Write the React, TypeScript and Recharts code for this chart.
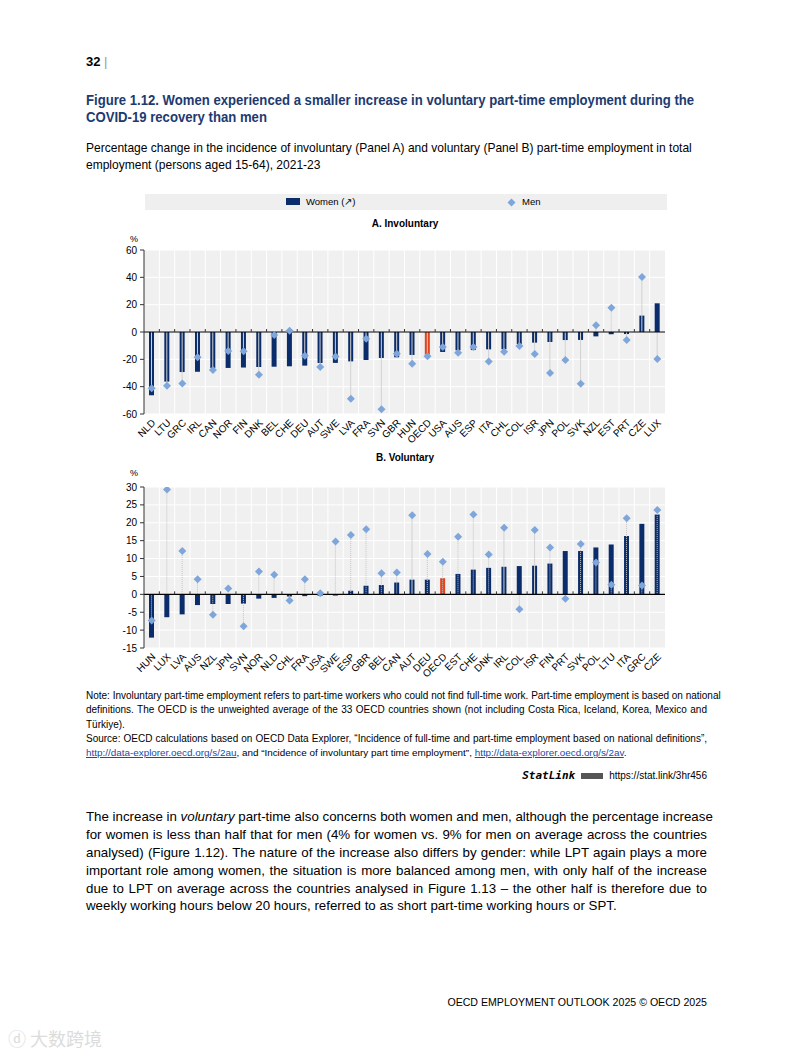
import React from "react";
import { Bar, CartesianGrid, Cell, ComposedChart, Line, ReferenceLine, XAxis, YAxis } from "recharts";

const NARROW = "'Liberation Sans Narrow', 'Arial Narrow', 'Liberation Sans', Arial, sans-serif";
const SANS = "'Liberation Sans', Arial, sans-serif";

const NAVY = "#0b2c6a";
const RED = "#e2421c";
const LIGHT = "#7ea6da";
const TITLE = "#1d3a70";

// Panel A – involuntary part-time, % change 2021-23
const countriesA = ["NLD", "LTU", "GRC", "IRL", "CAN", "NOR", "FIN", "DNK", "BEL", "CHE", "DEU", "AUT", "SWE", "LVA", "FRA", "SVN", "GBR", "HUN", "OECD", "USA", "AUS", "ESP", "ITA", "CHL", "COL", "ISR", "JPN", "POL", "SVK", "NZL", "EST", "PRT", "CZE", "LUX"];
const womenA = [-46.3, -36.3, -29.3, -29.1, -26.4, -26.3, -26.0, -25.6, -25.4, -25.1, -24.6, -22.7, -22.6, -21.5, -20.5, -19.0, -18.5, -16.8, -16.6, -14.6, -13.4, -13.2, -12.7, -12.6, -8.8, -7.8, -7.3, -5.9, -5.8, -3.2, -1.7, -1.5, 12.0, 21.0];
const menA = [-41.2, -39.3, -37.6, -18.5, -27.8, -13.9, -14.1, -31.2, -2.2, 1.0, -17.3, -25.6, -18.0, -48.8, -4.9, -56.6, -15.9, -23.2, -17.8, -11.0, -15.1, -11.0, -21.5, -14.4, -10.2, -16.1, -30.0, -20.5, -37.8, 4.9, 17.8, -5.9, 40.2, -19.8];
const ticksA = [60, 40, 20, 0, -20, -40, -60];
const dottedA = ["EST"];

// Panel B – voluntary part-time, % change 2021-23
const countriesB = ["HUN", "LUX", "LVA", "AUS", "NZL", "JPN", "SVN", "NOR", "NLD", "CHL", "FRA", "USA", "SWE", "ESP", "GBR", "BEL", "CAN", "AUT", "DEU", "OECD", "EST", "CHE", "DNK", "IRL", "COL", "ISR", "FIN", "PRT", "SVK", "POL", "LTU", "ITA", "GRC", "CZE"];
const womenB = [-12.1, -6.4, -5.6, -3.0, -2.7, -2.7, -2.6, -1.2, -1.0, -0.6, -0.5, -0.45, -0.35, 1.0, 2.4, 2.6, 3.3, 4.1, 4.1, 4.5, 5.7, 6.9, 7.4, 7.7, 7.9, 8.0, 8.6, 12.1, 12.1, 13.1, 13.9, 16.3, 19.7, 22.3];
const menB = [-7.3, 29.3, 12.1, 4.2, -5.7, 1.6, -8.9, 6.4, 5.5, -1.7, 4.2, 0.3, 14.8, 16.6, 18.2, 5.9, 6.1, 22.1, 11.3, 9.1, 16.1, 22.3, 11.1, 18.6, -4.2, 18.0, 13.1, -1.2, 14.1, 8.9, 2.7, 21.3, 2.5, 23.6];
const ticksB = [30, 25, 20, 15, 10, 5, 0, -5, -10, -15];
const solidB = ["AUT", "IRL", "ISR"];

const AVERAGE = "OECD";

type Row = { c: string; women: number; men: number; solid: number | null; dotted: number | null };

function buildRows(cats: string[], women: number[], men: number[], dotted: (c: string) => boolean): Row[] {
  return cats.map((c, i) => ({
    c,
    women: women[i],
    men: men[i],
    solid: dotted(c) ? null : men[i],
    dotted: dotted(c) ? men[i] : null,
  }));
}

const rowsA = buildRows(countriesA, womenA, menA, (c) => dottedA.includes(c));
const rowsB = buildRows(countriesB, womenB, menB, (c) => !solidB.includes(c));

function connector(p: any, dashed: boolean) {
  const { x, y, width, height } = p;
  if (p.value == null || !Number.isFinite(y) || !Number.isFinite(height)) return <g />;
  const cx = x + width / 2;
  return (
    <line
      x1={cx}
      x2={cx}
      y1={y}
      y2={y + height}
      stroke={dashed ? "#c4c4c4" : "#d2d2d2"}
      strokeWidth={1}
      strokeDasharray={dashed ? "1 1" : undefined}
    />
  );
}

function diamond(p: any) {
  const { cx, cy } = p;
  if (!Number.isFinite(cy)) return <g key={p.index} />;
  const r = 4;
  return (
    <polygon
      key={p.index}
      points={`${cx},${cy - r} ${cx + r},${cy} ${cx},${cy + r} ${cx - r},${cy}`}
      fill={LIGHT}
    />
  );
}

function CountryTick(props: any) {
  const { x, y, payload } = props;
  return (
    <text
      x={x + 2}
      y={y - 1}
      dy="0.35em"
      textAnchor="end"
      fontSize={10}
      fontFamily={NARROW}
      fill="#000"
      transform={`rotate(-45, ${x + 2}, ${y - 1})`}
    >
      {payload.value}
    </text>
  );
}

function Panel({ rows, domain, ticks, height }: { rows: Row[]; domain: [number, number]; ticks: number[]; height: number }) {
  const n = rows.length;
  const zeroLine = (p: any) => {
    const { x1, x2, y1 } = p;
    const w = (x2 - x1) / n;
    return (
      <g>
        <line x1={x1} x2={x2} y1={y1} y2={y1} stroke="#000" strokeWidth={1.2} />
        {rows.slice(1).map((_, i) => (
          <line key={i} x1={x1 + w * (i + 1)} x2={x1 + w * (i + 1)} y1={y1 - 3} y2={y1} stroke="#333" strokeWidth={1} />
        ))}
      </g>
    );
  };
  return (
    <ComposedChart width={575} height={height} data={rows} margin={{ top: 10, right: 10, bottom: 0, left: 0 }}>
      <CartesianGrid
        fill="#f0f0f0"
        stroke="#ffffff"
        strokeWidth={1}
        verticalCoordinatesGenerator={({ offset }: any) =>
          rows.slice(1).map((_, i) => offset.left + (offset.width * (i + 1)) / n)
        }
      />
      <XAxis dataKey="c" interval={0} tick={<CountryTick />} tickLine={false} axisLine={false} height={40} />
      <XAxis xAxisId="s" dataKey="c" hide />
      <XAxis xAxisId="d" dataKey="c" hide />
      <YAxis
        domain={domain}
        ticks={ticks}
        interval={0}
        width={44}
        tickSize={4}
        tickMargin={3}
        axisLine={{ stroke: "#333" }}
        tickLine={{ stroke: "#333" }}
        tick={{ fontSize: 10, fill: "#000", fontFamily: NARROW }}
        allowDataOverflow
      />
      <Bar dataKey="women" barSize={5} isAnimationActive={false}>
        {rows.map((r) => (
          <Cell key={r.c} fill={r.c === AVERAGE ? RED : NAVY} />
        ))}
      </Bar>
      <ReferenceLine y={0} shape={zeroLine} />
      <Bar xAxisId="s" dataKey="solid" barSize={5} isAnimationActive={false} shape={(p: any) => connector(p, false)} />
      <Bar xAxisId="d" dataKey="dotted" barSize={5} isAnimationActive={false} shape={(p: any) => connector(p, true)} />
      <Line dataKey="men" stroke="none" dot={diamond} activeDot={false} isAnimationActive={false} legendType="none" />
    </ComposedChart>
  );
}

// one line of text; sx squeezes it horizontally to imitate a narrow face
function Text({ top, left = 86, width = 621, lh, size, family = NARROW, justify = false, sx = 1, style, children }: any) {
  return (
    <div
      style={{
        position: "absolute",
        top,
        left,
        width: width / sx,
        height: lh,
        lineHeight: `${lh}px`,
        fontSize: size,
        fontFamily: family,
        whiteSpace: "nowrap",
        textAlign: justify ? "justify" : "left",
        textAlignLast: justify ? "justify" : "left",
        color: "#000",
        transform: sx !== 1 ? `scaleX(${sx})` : undefined,
        transformOrigin: "0 0",
        ...style,
      }}
    >
      {children}
    </div>
  );
}

const link = { color: "#1a4aa8", textDecoration: "underline" };
const bodySize = 13.3;

export default function App() {
  return (
    <div style={{ position: "absolute", left: 0, top: 0, width: 793, height: 1057, background: "#fff", overflow: "hidden" }}>
      <Text top={53} lh={18} size={13} family={SANS} style={{ fontWeight: "bold" }}>
        32 <span style={{ fontWeight: "normal", color: "#999" }}>|</span>
      </Text>

      <Text top={90} lh={19} size={15} sx={0.875} style={{ fontWeight: "bold", color: TITLE }}>
        Figure 1.12. Women experienced a smaller increase in voluntary part-time employment during the
      </Text>
      <Text top={107} lh={19} size={15} sx={0.875} style={{ fontWeight: "bold", color: TITLE }}>
        COVID-19 recovery than men
      </Text>

      <Text top={139} lh={18} size={13.5} sx={0.89}>
        Percentage change in the incidence of involuntary (Panel A) and voluntary (Panel B) part-time employment in total
      </Text>
      <Text top={156} lh={18} size={13.5} sx={0.89}>
        employment (persons aged 15-64), 2021-23
      </Text>

      {/* legend */}
      <div style={{ position: "absolute", left: 145, top: 194, width: 522, height: 16, background: "#efefef" }} />
      <div style={{ position: "absolute", left: 286, top: 198, width: 14, height: 7, background: NAVY }} />
      <Text top={195} left={306} width={80} lh={14} size={9.5}>Women (↗)</Text>
      <svg style={{ position: "absolute", left: 507, top: 198 }} width={9} height={9}>
        <polygon points="4.5,0.5 8.5,4.5 4.5,8.5 0.5,4.5" fill={LIGHT} />
      </svg>
      <Text top={195} left={522} width={40} lh={14} size={9.5}>Men</Text>

      {/* Panel A */}
      <Text top={217} left={305} width={200} lh={14} size={10} style={{ fontWeight: "bold", textAlign: "center", textAlignLast: "center" }}>
        A. Involuntary
      </Text>
      <Text top={233} left={130} width={10} lh={12} size={9}>%</Text>
      <div style={{ position: "absolute", left: 100, top: 240 }}>
        <Panel rows={rowsA} domain={[-60, 60]} ticks={ticksA} height={214} />
      </div>

      {/* Panel B */}
      <Text top={451} left={305} width={200} lh={14} size={10} style={{ fontWeight: "bold", textAlign: "center", textAlignLast: "center" }}>
        B. Voluntary
      </Text>
      <Text top={467} left={130} width={10} lh={12} size={9}>%</Text>
      <div style={{ position: "absolute", left: 100, top: 477 }}>
        <Panel rows={rowsB} domain={[-15, 30]} ticks={ticksB} height={211} />
      </div>

      {/* notes */}
      <Text top={689} lh={14} size={10} justify>
        Note: Involuntary part-time employment refers to part-time workers who could not find full-time work. Part-time employment is based on national
      </Text>
      <Text top={703} lh={14} size={10} justify>
        definitions. The OECD is the unweighted average of the 33 OECD countries shown (not including Costa Rica, Iceland, Korea, Mexico and
      </Text>
      <Text top={718} lh={14} size={10}>
        Türkiye).
      </Text>
      <Text top={732} lh={14} size={10} justify>
        Source: OECD calculations based on OECD Data Explorer, “Incidence of full-time and part-time employment based on national definitions”,
      </Text>
      <Text top={746} lh={14} size={9.9}>
        <span style={link}>http://data-explorer.oecd.org/s/2au</span>, and “Incidence of involuntary part time employment”,{" "}
        <span style={link}>http://data-explorer.oecd.org/s/2av</span>.
      </Text>
      <div style={{ position: "absolute", top: 769, left: 440, width: 267, height: 14, lineHeight: "14px", fontSize: 10, fontFamily: NARROW, textAlign: "right", whiteSpace: "nowrap" }}>
        <span style={{ fontFamily: "'DejaVu Sans Mono', monospace", fontStyle: "italic", fontWeight: "bold", fontSize: 11 }}>StatLink</span>
        <span style={{ display: "inline-block", width: 22, height: 6, background: "#555", margin: "0 6px 1px 6px", verticalAlign: "middle" }} />
        https://stat.link/3hr456
      </div>

      {/* body */}
      <Text top={808} lh={18} size={bodySize} family={SANS} justify>
        The increase in <i>voluntary</i> part-time also concerns both women and men, although the percentage increase
      </Text>
      <Text top={826} lh={18} size={bodySize} family={SANS} justify>
        for women is less than half that for men (4% for women vs. 9% for men on average across the countries
      </Text>
      <Text top={844} lh={18} size={bodySize} family={SANS} justify>
        analysed) (Figure 1.12). The nature of the increase also differs by gender: while LPT again plays a more
      </Text>
      <Text top={862} lh={18} size={bodySize} family={SANS} justify>
        important role among women, the situation is more balanced among men, with only half of the increase
      </Text>
      <Text top={880} lh={18} size={bodySize} family={SANS} justify>
        due to LPT on average across the countries analysed in Figure 1.13 – the other half is therefore due to
      </Text>
      <Text top={897} lh={18} size={bodySize} family={SANS}>
        weekly working hours below 20 hours, referred to as short part-time working hours or SPT.
      </Text>

      <div style={{ position: "absolute", top: 995, left: 400, width: 307, height: 14, lineHeight: "14px", fontSize: 10.6, fontFamily: SANS, textAlign: "right", whiteSpace: "nowrap" }}>
        OECD EMPLOYMENT OUTLOOK 2025 © OECD 2025
      </div>

      <div style={{ position: "absolute", top: 1027, left: 8, fontSize: 18, lineHeight: "22px", fontFamily: "'Noto Sans CJK SC', sans-serif", color: "#dcdcdc", whiteSpace: "nowrap" }}>
        ⓓ 大数跨境
      </div>
    </div>
  );
}
